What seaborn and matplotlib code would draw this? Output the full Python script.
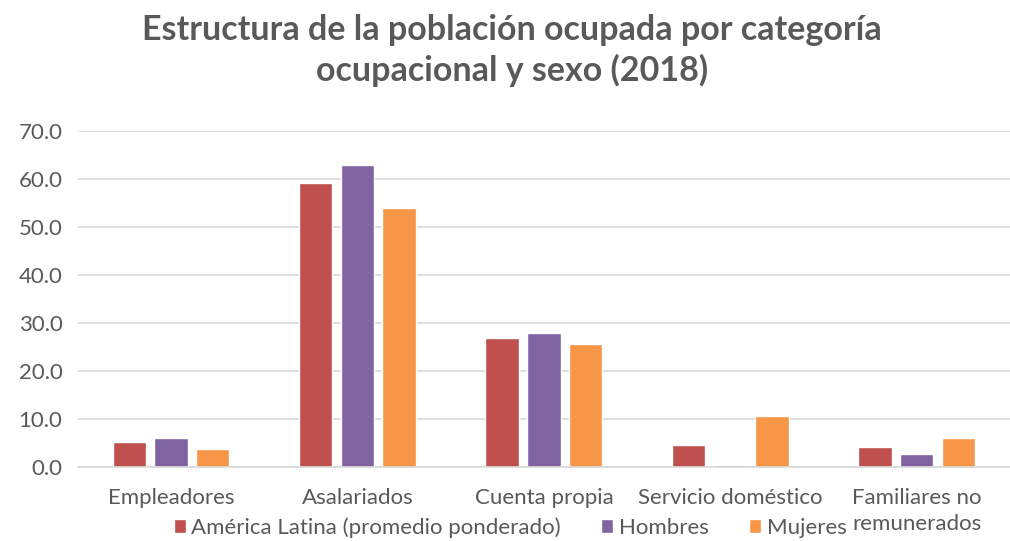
import pandas as pd
import matplotlib.pyplot as plt
import seaborn as sns

# Data (percent of employed population)
categorias = ['Empleadores', 'Asalariados', 'Cuenta propia', 'Servicio doméstico', 'Familiares no\nremunerados']
series = ['América Latina (promedio ponderado)', 'Hombres', 'Mujeres']
america_latina = [5.1, 59.2, 26.9, 4.6, 4.2]
hombres = [6.0, 62.8, 27.8, 0.4, 2.6]
mujeres = [3.7, 54.0, 25.5, 10.5, 6.0]
colores = ['#C0504D', '#8064A2', '#F79646']

df = pd.DataFrame({
    'categoria': categorias * 3,
    'serie': [series[0]] * 5 + [series[1]] * 5 + [series[2]] * 5,
    'valor': america_latina + hombres + mujeres,
})

sns.set_style('white')
plt.rcParams['font.family'] = ['Lato', 'DejaVu Sans']
gris = '#595959'

fig = plt.figure(figsize=(10.1, 5.41), dpi=100)
ax = fig.add_axes([0.077, 0.137, 0.923, 0.621])

sns.barplot(data=df, x='categoria', y='valor', hue='serie', palette=colores,
            width=0.672, gap=0.2, ax=ax, legend=True, saturation=1)

# Axis formatting
ax.set_ylim(0, 70)
ax.set_xlim(-0.5, 4.5)
ax.set_yticks(range(0, 71, 10))
ax.set_yticklabels([f'{v:.1f}' for v in range(0, 71, 10)], color=gris, fontsize=16)
ax.tick_params(axis='x', colors=gris, labelsize=16, length=0, pad=15)
ax.tick_params(axis='y', length=0, pad=11)
ax.set_xlabel('')
ax.set_ylabel('')
ax.yaxis.grid(True, color='#d9d9d9', linewidth=1.2)
ax.set_axisbelow(True)
for s in ['top', 'right', 'left']:
    ax.spines[s].set_visible(False)
ax.spines['bottom'].set_color('#d9d9d9')
ax.spines['bottom'].set_linewidth(1.2)
for lbl in ax.get_xticklabels():
    lbl.set_linespacing(1.38)

# Title
fig.text(0.507, 0.975, 'Estructura de la población ocupada por categoría\nocupacional y sexo (2018)',
         ha='center', va='top', fontsize=24.5, fontweight='bold', color=gris, linespacing=1.3)

# Legend at the bottom
handles, labels = ax.get_legend_handles_labels()
ax.get_legend().remove()
fig.legend(handles, labels, loc='center', bbox_to_anchor=(0.505, 0.025), ncol=3, frameon=False,
           fontsize=16, labelcolor=gris, handlelength=0.55, handleheight=0.55,
           handletextpad=0.25, columnspacing=1.8, borderaxespad=0)

plt.savefig('out.png', dpi=100)
plt.close()
